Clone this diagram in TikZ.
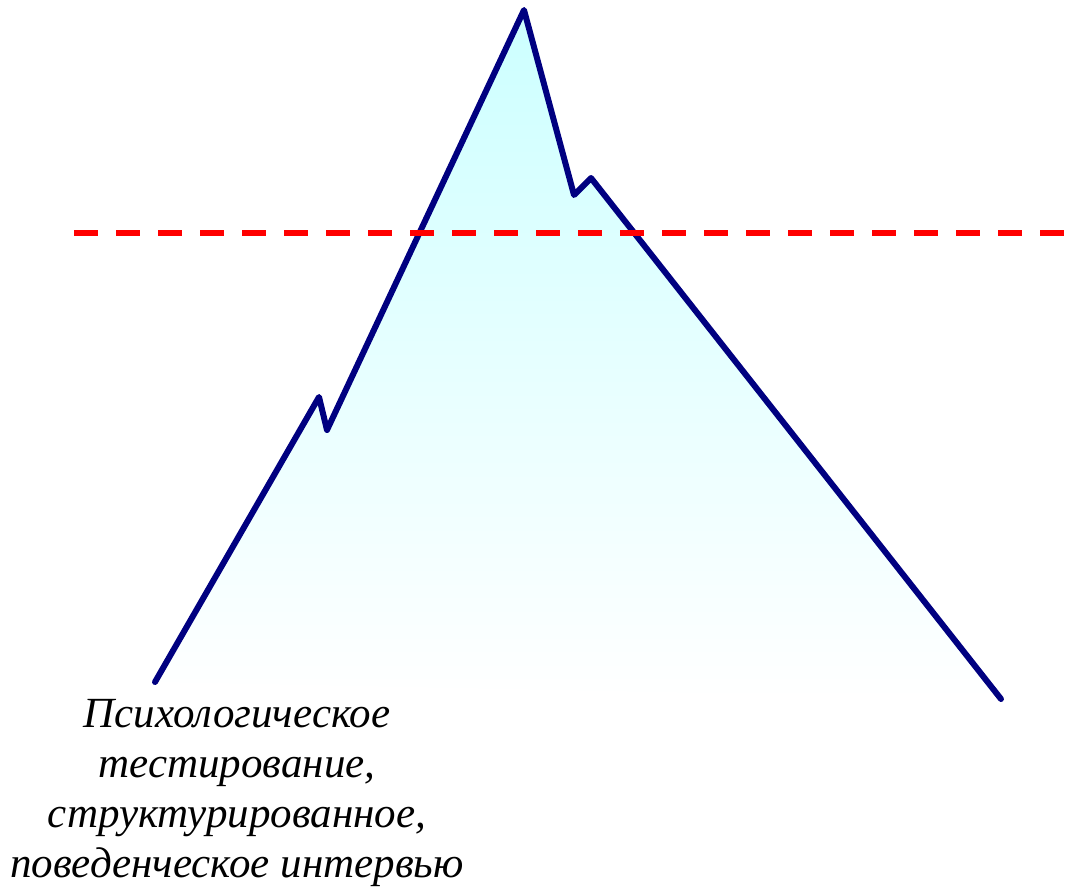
\documentclass[tikz,border=0pt]{standalone}
\usepackage{fontspec}
\setmainfont{Liberation Serif}
\begin{document}
\begin{tikzpicture}[x=1pt,y=-1pt,
  berg/.style={draw={rgb,255:red,0;green,0;blue,128},line width=6pt,line join=round,line cap=round},
  waterline/.style={draw=red,line width=6pt,dash pattern=on 24pt off 18pt},
  caption/.style={font=\fontsize{43}{50}\selectfont\itshape,align=center,text=black,inner sep=0pt}]
\useasboundingbox (0,0) rectangle (1066,887);
\coordinate (p1) at (155,682);
\coordinate (p2) at (319,397);
\coordinate (p3) at (327,430);
\coordinate (p4) at (524,10);
\coordinate (p5) at (574,195);
\coordinate (p6) at (591,178);
\coordinate (p7) at (1001,699);
\shade[top color={rgb,255:red,204;green,255;blue,255},bottom color=white]
  (p1) -- (p2) -- (p3) -- (p4) -- (p5) -- (p6) -- (p7) -- cycle;
\draw[berg] (p1) -- (p2) -- (p3) -- (p4) -- (p5) -- (p6) -- (p7);
\coordinate (w1) at (74,233);
\coordinate (w2) at (1066,233);
\draw[waterline] (w1) -- (w2);
\node[caption,anchor=north] (cap) at (237,699) {Психологическое\\тестирование,\\структурированное,\\поведенческое интервью};
\end{tikzpicture}
\end{document}
